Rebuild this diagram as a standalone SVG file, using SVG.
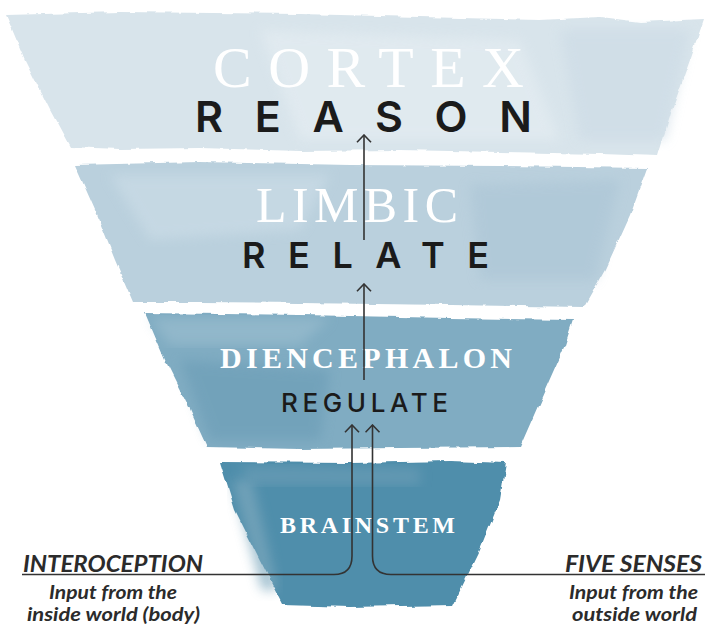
<svg xmlns="http://www.w3.org/2000/svg" width="711" height="626" viewBox="0 0 711 626">
  <defs>
    <filter id="rough" x="-5%" y="-5%" width="110%" height="110%">
      <feTurbulence type="fractalNoise" baseFrequency="0.06" numOctaves="3" seed="4" result="n"/>
      <feDisplacementMap in="SourceGraphic" in2="n" scale="5" xChannelSelector="R" yChannelSelector="G"/>
    </filter>
    <filter id="soft">
      <feGaussianBlur stdDeviation="6"/>
    </filter>
    <marker id="up" viewBox="0 0 16 10" refX="8" refY="1.2" markerWidth="16" markerHeight="10" markerUnits="userSpaceOnUse" orient="0">
      <path d="M1,8.5 L8,1.2 L15,8.5" fill="none" stroke="#333" stroke-width="1.6"/>
    </marker>
  </defs>
  <style>
    .serif { font-family: "Liberation Serif", "DejaVu Serif", serif; fill: #ffffff; }
    .sans { font-family: "Inter", "Liberation Sans", sans-serif; fill: #1b1b1b; }
    .it { font-family: "Lato", "Open Sans", "Liberation Sans", sans-serif; font-style: italic; font-weight: 700; fill: #2b2b2b; }
    .conn { fill: none; stroke: #333333; stroke-width: 1.6; }
  </style>
  <rect width="711" height="626" fill="#ffffff"/>

  <g id="cortex">
    <polygon filter="url(#rough)" fill="#d8e4eb" points="6,15 120,12 300,14 420,17 540,20 600,17 640,22 704,19 690,60 672,110 658,156 600,154 500,152 400,150 300,151 200,148 120,149 70,147 50,110 25,60"/>
    <polygon filter="url(#soft)" fill="#cddce6" opacity="0.7" points="560,30 690,30 665,140 580,140"/>
    <polygon filter="url(#soft)" fill="#e6eef3" opacity="0.6" points="260,30 520,40 560,140 300,140"/>
    <text class="serif" x="213" y="87" font-size="58" textLength="311" lengthAdjust="spacing">CORTEX</text>
    <text class="sans" x="195" y="132" font-size="43" font-weight="600" textLength="337" lengthAdjust="spacing">REASON</text>
  </g>

  <g id="limbic">
    <polygon filter="url(#rough)" fill="#bad0dd" points="75,165 200,162 350,165 500,166 647,168 630,215 605,270 584,307 450,305 300,303 200,302 133,302 115,260 95,210"/>
    <polygon filter="url(#soft)" fill="#cddee8" opacity="0.6" points="110,175 330,175 300,230 150,240"/>
    <polygon filter="url(#soft)" fill="#abc5d5" opacity="0.6" points="470,185 620,180 595,280 480,280"/>
    <text class="serif" x="256" y="222" font-size="50" textLength="202" lengthAdjust="spacing">LIMBIC</text>
    <text class="sans" x="242" y="268" font-size="36" font-weight="600" textLength="247" lengthAdjust="spacing">RELATE</text>
  </g>

  <g id="diencephalon">
    <polygon filter="url(#rough)" fill="#80acc2" points="145,313 300,315 450,318 573,320 565,345 545,390 520,447 400,448 300,449 207,447 190,410 165,360"/>
    <polygon filter="url(#soft)" fill="#9dbfd0" opacity="0.6" points="150,318 330,318 300,345 170,345"/>
    <polygon filter="url(#soft)" fill="#6a9cb6" opacity="0.6" points="180,360 330,370 320,440 210,440"/>
    <text class="serif" x="220" y="368" font-size="30" font-weight="700" textLength="292" lengthAdjust="spacing">DIENCEPHALON</text>
    <text class="sans" x="281" y="412" font-size="26" font-weight="500" textLength="167" lengthAdjust="spacing">REGULATE</text>
  </g>

  <g id="brainstem">
    <polygon filter="url(#rough)" fill="#508eab" points="220,462 350,463 450,461 506,463 500,500 480,550 453,605 350,607 283,605 260,560 235,510"/>
    <polygon filter="url(#soft)" fill="#7ea9be" opacity="0.7" points="232,480 252,480 278,590 262,590"/>
    <polygon filter="url(#soft)" fill="#76a3ba" opacity="0.5" points="240,466 420,468 420,485 250,485"/>
    <text class="serif" x="280" y="533" font-size="24" font-weight="700" textLength="175" lengthAdjust="spacing">BRAINSTEM</text>
  </g>

  <g id="interoception">
    <text class="it" x="23" y="572" font-size="22" font-weight="900" textLength="180" lengthAdjust="spacingAndGlyphs">INTEROCEPTION</text>
    <text class="it" x="49" y="599" font-size="18.5" textLength="128" lengthAdjust="spacingAndGlyphs">Input from the</text>
    <text class="it" x="27" y="621" font-size="18.5" textLength="173" lengthAdjust="spacingAndGlyphs">inside world (body)</text>
  </g>

  <g id="five-senses">
    <text class="it" x="565" y="572" font-size="22" font-weight="900" textLength="137" lengthAdjust="spacingAndGlyphs">FIVE SENSES</text>
    <text class="it" x="569" y="599" font-size="18.5" textLength="129" lengthAdjust="spacingAndGlyphs">Input from the</text>
    <text class="it" x="572" y="621" font-size="18.5" textLength="125" lengthAdjust="spacingAndGlyphs">outside world</text>
  </g>

  <g id="connectors">
    <path class="conn" d="M364,240 V135" marker-end="url(#up)"/>
    <path class="conn" d="M364,380 V284" marker-end="url(#up)"/>
    <path class="conn" d="M22,574.5 H334 Q352,574.5 352,556 V425" marker-end="url(#up)"/>
    <path class="conn" d="M705,574.5 H391 Q372.5,574.5 372.5,556 V425" marker-end="url(#up)"/>
  </g>
</svg>
